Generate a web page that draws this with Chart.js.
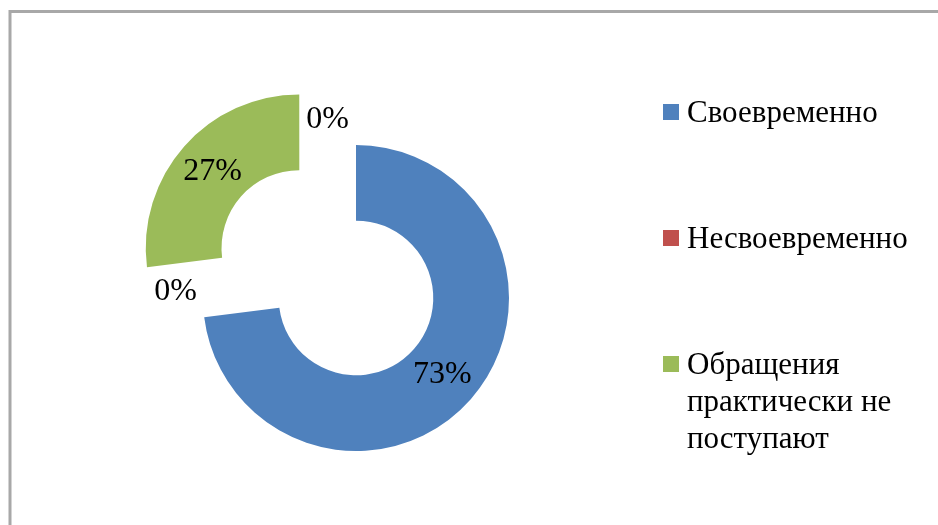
<!DOCTYPE html>
<html>
<head>
<meta charset="utf-8">
<script src="https://cdn.jsdelivr.net/npm/chart.js@4/dist/chart.umd.min.js"></script>
<style>
    body { margin: 0; background: #fff; }
    .chart-box { position: relative; width: 938px; height: 525px; }
</style>
</head>
<body>
<div class="chart-box">
    <canvas id="myChart"></canvas>
</div>
<script>
// chart data
const categories = ['Своевременно', 'Несвоевременно', 'Обращения практически не поступают', ''];
const shares = [73, 0, 27, 0];
const sliceColors = ['#4F81BD', '#C0504D', '#9BBB59', '#FFFFFF'];

const serif = '"Liberation Serif", "Times New Roman", serif';
const explodedIndex = 2;

// where the library actually moves an exploded arc (same rule as ArcElement.draw)
function arcShift(arc) {
    const o = (arc.options.offset || 0) / 4;
    const fix = 1 - Math.sin(Math.min(Math.PI, arc.circumference || 0));
    const mid = (arc.startAngle + arc.endAngle) / 2;
    const t = o * (1 + fix);
    return { dx: Math.cos(mid) * t, dy: Math.sin(mid) * t, mid: mid };
}

const frameBorder = {
    id: 'frameBorder',
    beforeDraw: (chart) => {
        const { ctx } = chart;
        ctx.save();
        ctx.strokeStyle = '#a8a8a8';
        ctx.lineWidth = 3;
        ctx.beginPath();
        ctx.moveTo(10, chart.height);
        ctx.lineTo(10, 11.5);
        ctx.lineTo(chart.width, 11.5);
        ctx.stroke();
        ctx.restore();
    }
};

const percentLabels = {
    id: 'percentLabels',
    afterDatasetsDraw: (chart) => {
        const { ctx } = chart;
        const meta = chart.getDatasetMeta(0);
        const values = chart.data.datasets[0].data;
        const total = values.reduce((a, b) => a + b, 0);

        // zero slices sit around the un-exploded centre
        let sx = 0, sy = 0;
        meta.data.forEach((arc) => {
            const s = arcShift(arc);
            sx += s.dx;
            sy += s.dy;
        });

        ctx.save();
        ctx.fillStyle = '#000';
        ctx.font = `32px ${serif}`;
        ctx.textAlign = 'center';
        ctx.textBaseline = 'middle';

        meta.data.forEach((arc, i) => {
            const pct = Math.round(values[i] / total * 100) + '%';
            const s = arcShift(arc);
            let px, py;
            if (values[i] === 0) {
                const r = arc.outerRadius;
                px = arc.x + sx / 2 + Math.cos(s.mid) * r;
                py = arc.y + sy / 2 + Math.sin(s.mid) * r;
            } else {
                const r = (arc.innerRadius + arc.outerRadius) / 2;
                px = arc.x + s.dx + Math.cos(s.mid) * r;
                py = arc.y + s.dy + Math.sin(s.mid) * r;
            }
            ctx.fillText(pct, px, py);
        });
        ctx.restore();
    }
};

const sideLegend = {
    id: 'sideLegend',
    afterDraw: (chart) => {
        const { ctx } = chart;
        const boxX = 663, textX = 687, boxSize = 16;
        const firstY = 112, step = 126, lineHeight = 37, maxWidth = 220;

        ctx.save();
        ctx.font = `31px ${serif}`;
        ctx.textBaseline = 'middle';
        ctx.textAlign = 'left';

        let row = 0;
        chart.data.labels.forEach((label, i) => {
            if (!label) return;
            const y = firstY + row * step;

            ctx.fillStyle = sliceColors[i];
            ctx.fillRect(boxX, y - boxSize / 2, boxSize, boxSize);

            // simple word wrap
            const words = label.split(' ');
            const lines = [];
            let line = '';
            words.forEach((w) => {
                const test = line ? line + ' ' + w : w;
                if (ctx.measureText(test).width > maxWidth && line) {
                    lines.push(line);
                    line = w;
                } else {
                    line = test;
                }
            });
            lines.push(line);

            ctx.fillStyle = '#000';
            lines.forEach((l, k) => ctx.fillText(l, textX, y + 2 + k * lineHeight));
            row++;
        });
        ctx.restore();
    }
};

const config = {
    type: 'doughnut',
    data: {
        labels: categories,
        datasets: [{
            data: shares,
            backgroundColor: sliceColors,
            borderWidth: 0,
            offset: (c) => c.dataIndex === explodedIndex ? 302 : 0
        }]
    },
    options: {
        responsive: true,
        maintainAspectRatio: false,
        animation: false,
        radius: 153,
        cutout: '50.5%',
        layout: {
            padding: { left: 0, right: 226, top: 71, bottom: 0 }
        },
        plugins: {
            legend: { display: false },
            tooltip: { enabled: false }
        }
    },
    plugins: [frameBorder, percentLabels, sideLegend]
};

new Chart(document.getElementById('myChart'), config);
</script>
</body>
</html>
